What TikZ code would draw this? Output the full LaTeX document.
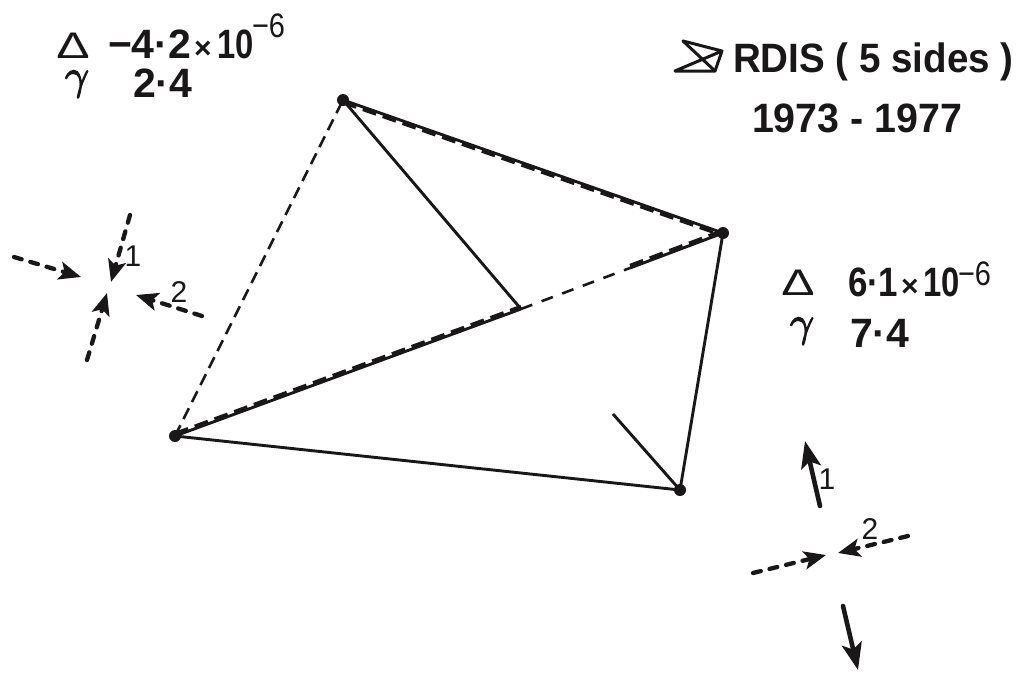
\documentclass[tikz,border=0pt]{standalone}
\usepackage{fontspec}
\setmainfont{Liberation Sans}
\usetikzlibrary{arrows.meta}
\definecolor{ink}{HTML}{1A1718}
\newcommand{\gammasign}{\special{pdf:code 2 Tr 0.3 w 0.102 0.09 0.094 RG}\ensuremath{\gamma}\special{pdf:code 0 Tr}}
\tikzset{
  x=1pt,y=-1pt,
  dotnode/.style={circle,fill=ink,inner sep=0pt,minimum size=12pt},
  solidedge/.style={draw=ink,line width=2.9pt},
  dashedge/.style={draw=ink,line width=2.6pt,dash pattern=on 12pt off 7pt},
  thickdash/.style={draw=ink,line width=3.4pt,dash pattern=on 14pt off 7pt},
  stressdash/.style={draw=ink,line width=4.3pt,line cap=round,dash pattern=on 8pt off 9pt,-{Stealth[length=22pt,width=18pt,inset=5pt]}},
  stresssolid/.style={draw=ink,line width=4.6pt,line cap=round,-{Stealth[length=27pt,width=20pt,inset=6pt]}},
  big/.style={anchor=base west,inner sep=0pt,outer sep=0pt,text=ink,font=\fontsize{41}{41}\selectfont\bfseries},
  timesign/.style={big,font=\fontsize{30}{30}\selectfont\bfseries},
  tennode/.style={big,xscale=.8},
  supnode/.style={anchor=base west,inner sep=0pt,outer sep=0pt,text=ink,xscale=.85,font=\fontsize{34}{34}\selectfont},
  tinylabel/.style={anchor=center,inner sep=0pt,outer sep=0pt,text=ink,font=\fontsize{30}{30}\selectfont},
  tri/.style={anchor=base,inner sep=0pt,outer sep=0pt,text=ink,xscale=1.35,font=\fontsize{37}{37}\selectfont},
  gam/.style={anchor=center,inner sep=0pt,outer sep=0pt,text=ink,scale=4.2},
  iconline/.style={draw=ink,line width=3pt,line join=round,line cap=round},
}
\begin{document}
\begin{tikzpicture}
\useasboundingbox (0,0) rectangle (1023,675);
% stations
\node[dotnode] (A) at (343,100) {};
\node[dotnode] (B) at (723,233) {};
\node[dotnode] (C) at (175,436) {};
\node[dotnode] (D) at (680,490) {};
\coordinate (E) at (521,309);
\coordinate (F) at (613,414);
\coordinate (G) at (630,268);
% lines
\draw[solidedge] (A.center) -- (B.center);
\draw[thickdash] ([yshift=-2.5pt]A.center) -- ([yshift=-2.5pt]B.center);
\draw[solidedge] (A.center) -- (E);
\draw[solidedge] (C.center) -- (E);
\draw[thickdash] ([yshift=2.5pt]C.center) -- ([yshift=2.5pt]E);
\draw[dashedge,dash pattern=on 12pt off 10pt] (E) -- (G);
\draw[solidedge] (G) -- (B.center);
\draw[thickdash] ([yshift=2.5pt]G) -- ([yshift=2.5pt]B.center);
\draw[solidedge] (B.center) -- (D.center);
\draw[solidedge] (C.center) -- (D.center);
\draw[solidedge] (D.center) -- (F);
\draw[dashedge] (C.center) -- (A.center);
% left stress group
\coordinate (l1a) at (130,215); \coordinate (l1b) at (111,282);
\coordinate (l2a) at (87,360);  \coordinate (l2b) at (107,293);
\coordinate (l3a) at (14,257);  \coordinate (l3b) at (81,277);
\coordinate (l4a) at (202,316); \coordinate (l4b) at (136,295);
\draw[stressdash] (l1a) -- (l1b);
\draw[stressdash] (l2a) -- (l2b);
\draw[stressdash] (l3a) -- (l3b);
\draw[stressdash] (l4a) -- (l4b);
\node[tinylabel] (ln1) at (133,256) {1};
\node[tinylabel] (ln2) at (179,292) {2};
% right stress group
\coordinate (r1a) at (820,506); \coordinate (r1b) at (805,441);
\coordinate (r2a) at (843,606); \coordinate (r2b) at (858,670);
\coordinate (r3a) at (753,573); \coordinate (r3b) at (826,555);
\coordinate (r4a) at (908,536); \coordinate (r4b) at (838,553);
\draw[stresssolid] (r1a) -- (r1b);
\draw[stresssolid] (r2a) -- (r2b);
\draw[stressdash] (r3a) -- (r3b);
\draw[stressdash] (r4a) -- (r4b);
\node[tinylabel] (rn1) at (827,479) {1};
\node[tinylabel] (rn2) at (870,529) {2};
% top-left values
\node[tri] (t1) at (73,58) {Δ};
\node[big] (v1) at (108,58) {−4·2};
\node[timesign] (x1) at (194,58) {×};
\node[tennode] (e1) at (217,58) {10};
\node[supnode] (s1) at (252,37) {−6};
\node[gam] (g1) at (77,84) {\gammasign};
\node[big] (v2) at (133,97) {2·4};
% title
\coordinate (i1) at (683,41); \coordinate (i2) at (722,51);
\coordinate (i3) at (715,71); \coordinate (i4) at (675,71);
\draw[iconline] (i1) -- (i2) -- (i3) -- (i4) -- (i2);
\draw[iconline] (i1) -- (i3);
\node[big,xscale=.94] (title) at (733,72) {RDIS ( 5 sides )};
\node[big,xscale=.96] (years) at (752,132) {1973 - 1977};
% right values
\node[tri] (t2) at (798,295) {Δ};
\node[big,xscale=.85] (v3) at (848,296) {6·1};
\node[timesign] (x2) at (901,296) {×};
\node[tennode] (e2) at (923,296) {10};
\node[supnode] (s2) at (958,285) {−6};
\node[gam] (g2) at (802,331) {\gammasign};
\node[big] (v4) at (850,347) {7·4};
\end{tikzpicture}
\end{document}
